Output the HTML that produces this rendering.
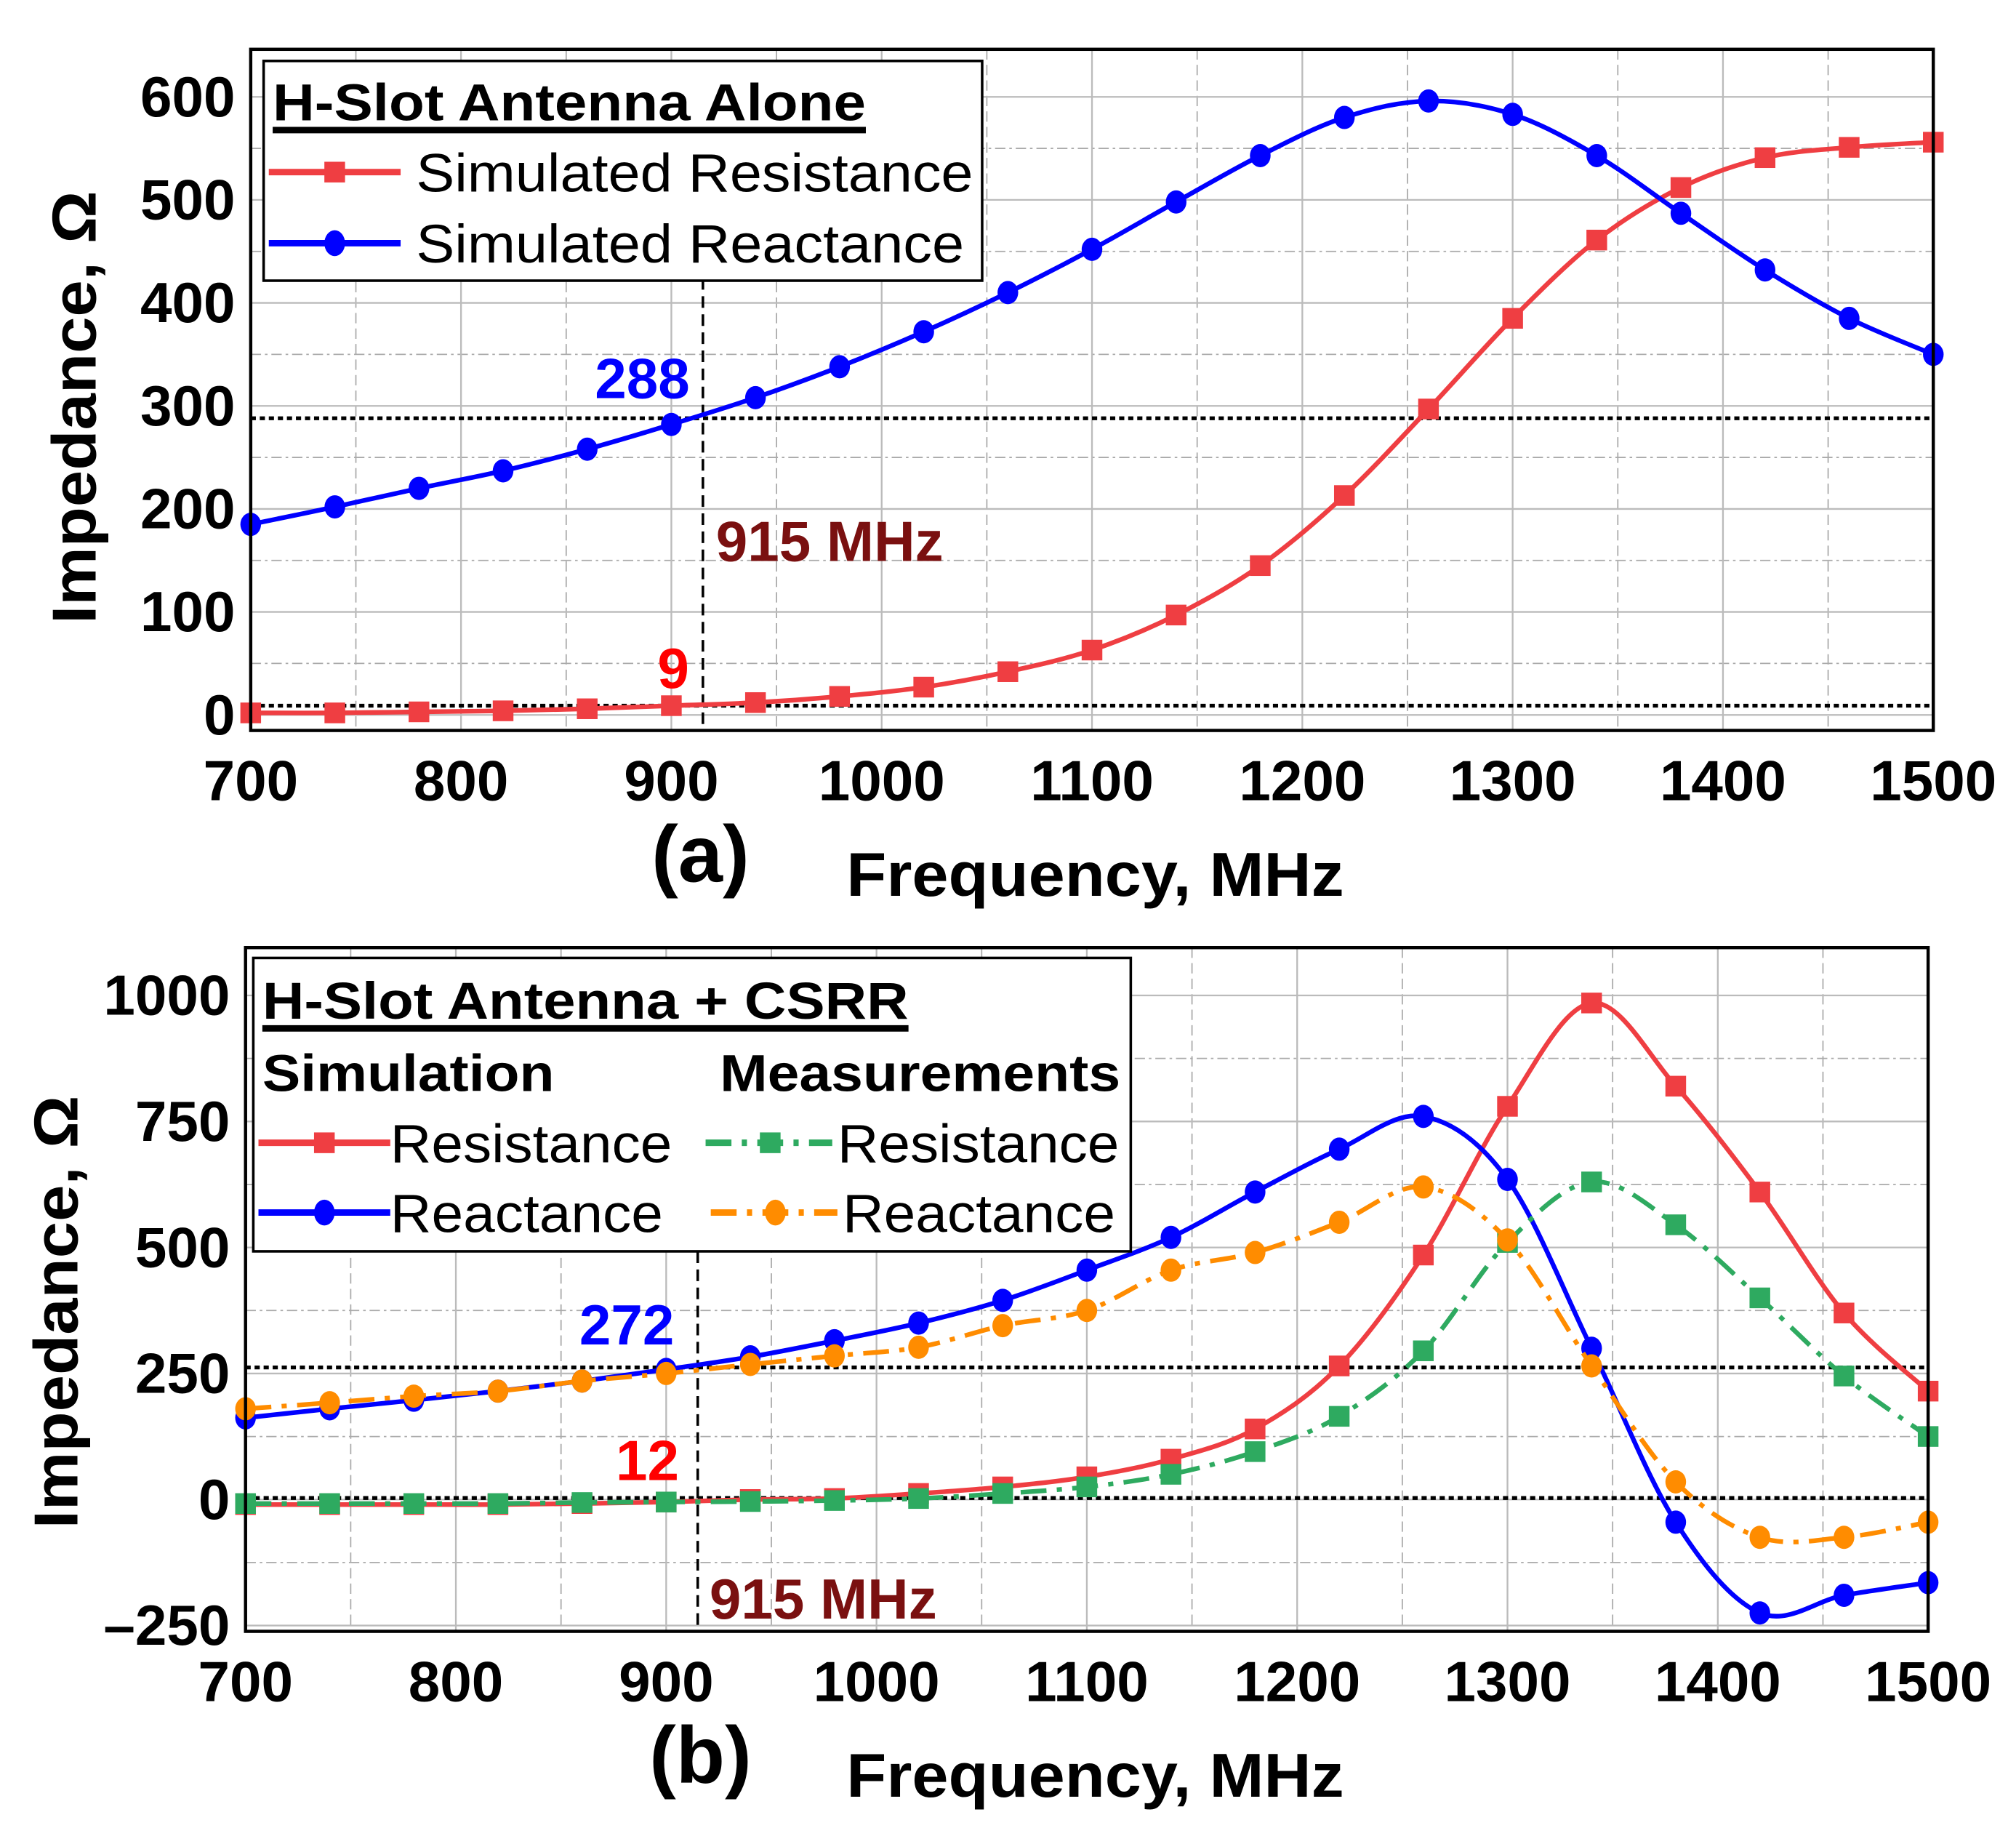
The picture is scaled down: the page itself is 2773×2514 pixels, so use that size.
<!DOCTYPE html>
<html><head><meta charset="utf-8"><style>
html,body{margin:0;padding:0;background:#fff}
svg{display:block}
text{font-family:"Liberation Sans",Arial,sans-serif}
</style></head><body>
<svg id="chart" width="2773" height="2514" viewBox="0 0 1560 1414" xmlns="http://www.w3.org/2000/svg"></svg>
<script>
const freqs = [700,740,780,820,860,900,940,980,1020,1060,1100,1140,1180,1220,1260,1300,1340,1380,1420,1460,1500];
const aResistance = [2,2,3,4,6,9,12,18,27,42,63,97,145,213,297,385,461,512,541,551,556];
const aReactance = [185,202,220,237,258,282,308,338,372,410,452,498,543,580,596,583,543,487,432,385,350];
const bSimResistance = [-10,-10,-10,-10,-8,-5,0,2,12,25,45,80,140,265,485,780,985,820,610,370,215];
const bSimReactance = [162,180,197,215,235,258,283,315,350,395,455,520,610,695,760,635,300,-45,-225,-190,-165];
const bMeasResistance = [-8,-8,-8,-8,-6,-5,-4,-2,2,12,25,50,95,165,295,510,630,545,400,245,125];
const bMeasReactance = [180,192,205,215,235,250,268,285,302,345,375,455,490,550,620,515,265,35,-75,-75,-45];
const xTicks = [700,800,900,1000,1100,1200,1300,1400,1500];
const aYTicks = [0,100,200,300,400,500,600];
const bYTicks = [-250,0,250,500,750,1000];

const NS="http://www.w3.org/2000/svg";
const svg=document.getElementById('chart');
function el(tag,attrs,parent){const e=document.createElementNS(NS,tag);for(const k in attrs)e.setAttribute(k,attrs[k]);(parent||svg).appendChild(e);return e;}
function txt(s,attrs,parent){const t=el('text',attrs,parent);t.textContent=s;return t;}
function fit(attrs,len){attrs.textLength=len;attrs.lengthAdjust='spacingAndGlyphs';return attrs;}
function crPath(pts){let d=`M${pts[0][0]},${pts[0][1]}`;for(let i=0;i<pts.length-1;i++){const p0=pts[i-1]||pts[i],p1=pts[i],p2=pts[i+1],p3=pts[i+2]||p2;
d+=` C${p1[0]+(p2[0]-p0[0])/6},${p1[1]+(p2[1]-p0[1])/6} ${p2[0]-(p3[0]-p1[0])/6},${p2[1]-(p3[1]-p1[1])/6} ${p2[0]},${p2[1]}`;}return d;}

function panel(cfg){
  const g=el('g',{});
  
  
  const X=v=>cfg.L+(v-700)*(cfg.R-cfg.L)/800;
  const Y=v=>cfg.y0-(v)*cfg.k;
  for(let f=750;f<1500;f+=100){const l=el('line',{x1:X(f),x2:X(f),y1:cfg.T,y2:cfg.B,stroke:'#aaa','stroke-width':1,'stroke-dasharray':'8,4'},g);
    
    }
  for(const v of cfg.minorY){const l=el('line',{x1:cfg.L,x2:cfg.R,y1:Y(v),y2:Y(v),stroke:'#aaa','stroke-width':1,'stroke-dasharray':'8,3,2,3'},g);
    
    }
  for(const f of xTicks){const l=el('line',{x1:X(f),x2:X(f),y1:cfg.T,y2:cfg.B,stroke:'#bbb','stroke-width':1.3},g);
    
    
    const t=txt(String(f),{x:X(f),y:cfg.B+54,'text-anchor':'middle','font-size':44,'font-weight':'bold'},g);
    
    }
  for(const v of cfg.yTicks){const l=el('line',{x1:cfg.L,x2:cfg.R,y1:Y(v),y2:Y(v),stroke:'#bbb','stroke-width':1.3},g);
    
    
    const t=txt(v<0?'\u2013'+(-v):String(v),{x:cfg.L-12,y:Y(v)+15,'text-anchor':'end','font-size':44,'font-weight':'bold'},g);
    
    }
  for(const v of cfg.refY){const l=el('line',{x1:cfg.L,x2:cfg.R,y1:Y(v),y2:Y(v),stroke:'#000','stroke-width':3,'stroke-dasharray':'4,3'},g);
    
    }
  const vl=el('line',{x1:X(915),x2:X(915),y1:cfg.vTop,y2:cfg.B,stroke:'#000','stroke-width':2,'stroke-dasharray':'9,5'},g);
  
  
  for(const s of cfg.series){
    const pts=freqs.map((f,i)=>[X(f),Y(s.data[i])]);
    const sg=el('g',{},g);
    
    
    el('path',{d:crPath(pts),fill:'none',stroke:s.color,'stroke-width':3.6,'stroke-dasharray':s.dash||'none'},sg);
    for(const p of pts){
      if(s.marker==='sq')el('rect',{x:p[0]-8,y:p[1]-8,width:16,height:16,fill:s.color},sg);
      else el('ellipse',{cx:p[0],cy:p[1],rx:8,ry:9,fill:s.color},sg);
    }
  }
  const fr=el('rect',{x:cfg.L,y:cfg.T,width:cfg.R-cfg.L,height:cfg.B-cfg.T,fill:'none',stroke:'#000','stroke-width':2.5},g);
  
  
  const yt=txt('Impedance, \u03A9',fit({transform:`translate(${cfg.ytx},${cfg.ytc}) rotate(-90)`,'text-anchor':'middle','font-size':48,'font-weight':'bold'},335),g);
  
  
  const xt=txt('Frequency, MHz',fit({x:655,y:cfg.B+128,'font-size':48,'font-weight':'bold'},385),g);
  
  
  const pl=txt(cfg.label,{x:542,y:cfg.B+117,'text-anchor':'middle','font-size':62,'font-weight':'bold'},g);
  
  
  return {g,X,Y};
}

panel({name:'panel-a',L:194,R:1496,T:38,B:565,y0:553,k:0.797,yTicks:aYTicks,minorY:[50,150,250,350,450,550],refY:[288,9],vTop:215,ytx:74,ytc:315,label:'(a)',
  series:[{name:'simulated-resistance-line',data:aResistance,color:'#ef3e42',marker:'sq'},{name:'simulated-reactance-line',data:aReactance,color:'#0000ff',marker:'ci'}]});
panel({name:'panel-b',L:190,R:1492,T:733,B:1262,y0:1160,k:0.39,yTicks:bYTicks,minorY:[-125,125,375,625,875],refY:[262,3],vTop:968,ytx:60,ytc:1015,label:'(b)',
  series:[{name:'sim-resistance-line',data:bSimResistance,color:'#ef3e42',marker:'sq'},{name:'sim-reactance-line',data:bSimReactance,color:'#0000ff',marker:'ci'},
  {name:'meas-resistance-line',data:bMeasResistance,color:'#2eaa60',marker:'sq',dash:'20,8,4,8'},{name:'meas-reactance-line',data:bMeasReactance,color:'#ff8c00',marker:'ci',dash:'20,8,4,8'}]});

const ann=[['288',497,308,'#0000ff','annotation-288'],['9',521,532,'#ff0000','annotation-9'],['915 MHz',642,434,'#7a1010','annotation-915-a'],
['272',485,1040,'#0000ff','annotation-272'],['12',501,1145,'#ff0000','annotation-12'],['915 MHz',637,1252,'#7a1010','annotation-915-b']];
for(const a of ann){const t=txt(a[0],{x:a[1],y:a[2],'text-anchor':'middle','font-size':44,'font-weight':'bold',fill:a[3]});
  
  }

const la=el('g',{});


el('rect',{x:204,y:47,width:556,height:170,fill:'#fff',stroke:'#000','stroke-width':2},la);
txt('H-Slot Antenna Alone',fit({x:211,y:93,'font-size':40,'font-weight':'bold'},459),la);
el('rect',{x:211,y:98,width:459,height:5,fill:'#000'},la);
el('line',{x1:208,x2:310,y1:133,y2:133,stroke:'#ef3e42','stroke-width':5},la);
el('rect',{x:251,y:125,width:16,height:16,fill:'#ef3e42'},la);
txt('Simulated Resistance',fit({x:322,y:148,'font-size':42},431),la);
el('line',{x1:208,x2:310,y1:188,y2:188,stroke:'#0000ff','stroke-width':5},la);
el('ellipse',{cx:259,cy:188,rx:8,ry:10,fill:'#0000ff'},la);
txt('Simulated Reactance',fit({x:322,y:203,'font-size':42},424),la);

const lb=el('g',{});


el('rect',{x:196,y:741,width:679,height:227,fill:'#fff',stroke:'#000','stroke-width':2},lb);
txt('H-Slot Antenna + CSRR',fit({x:203,y:788,'font-size':40,'font-weight':'bold'},500),lb);
el('rect',{x:203,y:793,width:500,height:5,fill:'#000'},lb);
txt('Simulation',fit({x:203,y:844,'font-size':40,'font-weight':'bold'},226),lb);
txt('Measurements',fit({x:557,y:844,'font-size':40,'font-weight':'bold'},310),lb);
el('line',{x1:200,x2:302,y1:884,y2:884,stroke:'#ef3e42','stroke-width':5},lb);
el('rect',{x:243,y:876,width:16,height:16,fill:'#ef3e42'},lb);
txt('Resistance',fit({x:302,y:899,'font-size':42},218),lb);
el('line',{x1:200,x2:302,y1:938,y2:938,stroke:'#0000ff','stroke-width':5},lb);
el('ellipse',{cx:251,cy:938,rx:8,ry:10,fill:'#0000ff'},lb);
txt('Reactance',fit({x:302,y:953,'font-size':42},211),lb);
el('line',{x1:546,x2:644,y1:884,y2:884,stroke:'#2eaa60','stroke-width':5,'stroke-dasharray':'20,8,4,8'},lb);
el('rect',{x:588,y:876,width:16,height:16,fill:'#2eaa60'},lb);
txt('Resistance',fit({x:648,y:899,'font-size':42},218),lb);
el('line',{x1:550,x2:648,y1:938,y2:938,stroke:'#ff8c00','stroke-width':5,'stroke-dasharray':'20,8,4,8'},lb);
el('ellipse',{cx:600,cy:938,rx:8,ry:10,fill:'#ff8c00'},lb);
txt('Reactance',fit({x:652,y:953,'font-size':42},211),lb);
</script>
</body></html>
